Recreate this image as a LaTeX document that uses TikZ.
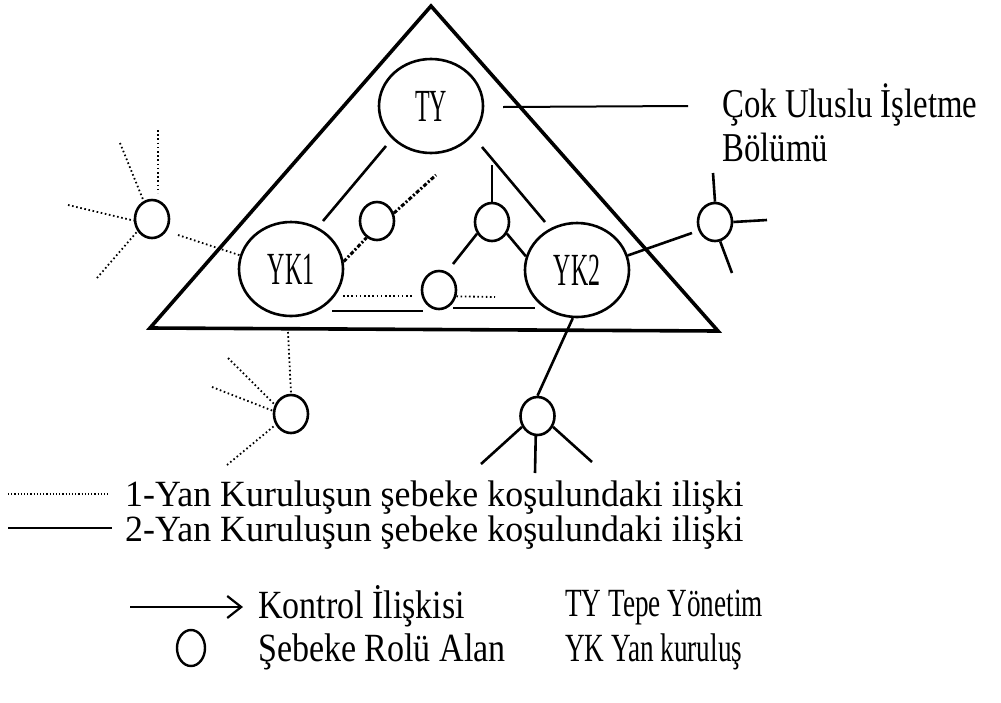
\documentclass[tikz,border=0pt]{standalone}
\usepackage{fontspec}
\setmainfont{Liberation Serif}
\newfontfamily\labfont[FakeStretch=0.52]{Liberation Serif}
\newfontfamily\titfont[FakeStretch=0.8]{Liberation Serif}
\newfontfamily\legfont[FakeStretch=0.97]{Liberation Serif}
\newfontfamily\legbfont[FakeStretch=0.85]{Liberation Serif}
\newfontfamily\legcfont[FakeStretch=0.68]{Liberation Serif}
\usetikzlibrary{shapes.geometric,arrows.meta}
\begin{document}
\begin{tikzpicture}[x=1pt,y=-1pt,
  big/.style={ellipse,draw,line width=2.6pt,minimum width=104pt,minimum height=94pt,inner sep=0pt,font=\labfont\fontsize{46}{46}\selectfont},
  small/.style={ellipse,draw,line width=2.6pt,minimum width=34pt,minimum height=38pt,inner sep=0pt},
  solidc/.style={line width=2.6pt},
  dotc/.style={line width=1.8pt,dash pattern=on 1.6pt off 2.6pt},
  thickdot/.style={line width=3pt,dash pattern=on 4pt off 2pt on 2pt off 2pt},
  finedot/.style={line width=1.4pt,dash pattern=on 1.2pt off 2pt},
  legtext/.style={anchor=base west,inner sep=0pt,font=\legfont\fontsize{37}{37}\selectfont},
  legtextb/.style={anchor=base west,inner sep=0pt,font=\legbfont\fontsize{40}{40}\selectfont},
  legtextc/.style={anchor=base west,inner sep=0pt,font=\legcfont\fontsize{40}{40}\selectfont},
]
\useasboundingbox (0,0) rectangle (1001,702);
% triangle
\draw[line width=3.6pt,line join=miter] (431,6) -- (150,328) -- (718,331) -- cycle;
% main nodes
\node[big] (ty) at (431,106) {TY};
\node[big] (yk1) at (291,269) {YK1};
\node[big] (yk2) at (577,270) {YK2};
% small circles
\node[small] (c1) at (377,221) {};
\node[small] (c2) at (492,222) {};
\node[small] (c3) at (439,290) {};
\node[small] (cl) at (152,219) {};
\node[small] (cr) at (715,222) {};
\node[small] (cbl) at (291,414) {};
\node[small] (cbr) at (537.5,416) {};
% coordinates
\coordinate (a1) at (386,146); \coordinate (a2) at (323,221);
\coordinate (b1) at (482,147); \coordinate (b2) at (545,222);
\coordinate (d1) at (436,175);
\coordinate (e1) at (492,165); \coordinate (e2) at (453,264);
\coordinate (f1) at (343,296); \coordinate (f2) at (412,296);
\coordinate (f3) at (495,297);
\coordinate (g1) at (332,311); \coordinate (g2) at (423,311);
\coordinate (g3) at (453,308); \coordinate (g4) at (535,308);
\coordinate (l0) at (503,107); \coordinate (l1) at (688,106);
% inner connectors
\draw[solidc] (a1) -- (a2);
\draw[solidc] (b1) -- (b2);
\draw[thickdot] (yk1.8) -- (c1.238);
\draw[thickdot] (c1.25) -- (d1);
\draw[line width=1.8pt] (e1) -- (c2.north);
\draw[solidc] (c2.218) -- (e2);
\draw[solidc] (c2.-38) -- (yk2.165);
\draw[dotc] (f1) -- (f2);
\draw[dotc] (c3.-20) -- (f3);
\draw[solidc] (g1) -- (g2);
\draw[solidc] (g3) -- (g4);
\draw[line width=2pt] (l0) -- (l1);
% left outer circle
\coordinate (h1) at (158,130); \coordinate (h1b) at (158,193);
\coordinate (h2) at (120,143);
\coordinate (h3) at (68,205);
\coordinate (h4) at (97,278);
\coordinate (h5) at (178,235);
\draw[dotc] (h1) -- (h1b);
\draw[dotc] (h2) -- (cl.115);
\draw[dotc] (h3) -- (cl.185);
\draw[dotc] (h4) -- (cl.220);
\draw[dotc] (h5) -- (yk1.165);
% right outer circle
\coordinate (r1) at (713,173); \coordinate (r2) at (767,220);
\coordinate (r3) at (732,273); \coordinate (r4) at (692,233);
\draw[solidc] (r1) -- (cr.north);
\draw[solidc] (cr.east) -- (r2);
\draw[solidc] (cr.-75) -- (r3);
\draw[solidc] (yk2.16) -- (r4);
% bottom-left circle
\coordinate (p0) at (288,332);
\coordinate (p1) at (228,358); \coordinate (p2) at (212,387); \coordinate (p3) at (227,465);
\draw[dotc] (p0) -- (cbl.north);
\draw[dotc] (p1) -- (cbl.150);
\draw[dotc] (p2) -- (cbl.170);
\draw[dotc] (p3) -- (cbl.215);
% bottom-right circle
\coordinate (q1) at (481,464); \coordinate (q2) at (535,473); \coordinate (q3) at (592,462);
\draw[solidc] (yk2.265) -- (cbr.north);
\draw[solidc] (cbr.215) -- (q1);
\draw[solidc] (cbr.265) -- (q2);
\draw[solidc] (cbr.-35) -- (q3);
% label
\node[anchor=base west,inner sep=0pt,align=left,font=\titfont\fontsize{41}{44}\selectfont] (lab) at (722,161) {Çok Uluslu İşletme\\Bölümü};
% legend
\coordinate (m1) at (8,494); \coordinate (m2) at (110,494);
\coordinate (n1) at (8,528); \coordinate (n2) at (112,528);
\draw[finedot] (m1) -- (m2);
\draw[line width=2.2pt] (n1) -- (n2);
\node[legtext] (t1) at (125,506) {1-Yan Kuruluşun şebeke koşulundaki ilişki};
\node[legtext] (t2) at (125,541) {2-Yan Kuruluşun şebeke koşulundaki ilişki};
\coordinate (k1) at (130,607); \coordinate (k2) at (243,607);
\draw[line width=2.2pt,-{Straight Barb[length=14pt,width=22pt,line width=2.2pt]}] (k1) -- (k2);
\node[ellipse,draw,line width=2.4pt,minimum width=28pt,minimum height=36pt,inner sep=0pt] (cleg) at (191,648) {};
\node[legtextb] (t3) at (258,618) {Kontrol İlişkisi};
\node[legtextb] (t4) at (258,661) {Şebeke Rolü Alan};
\node[legtextc] (t5) at (565,616) {TY Tepe Yönetim};
\node[legtextc] (t6) at (565,661) {YK Yan kuruluş};
\end{tikzpicture}
\end{document}
